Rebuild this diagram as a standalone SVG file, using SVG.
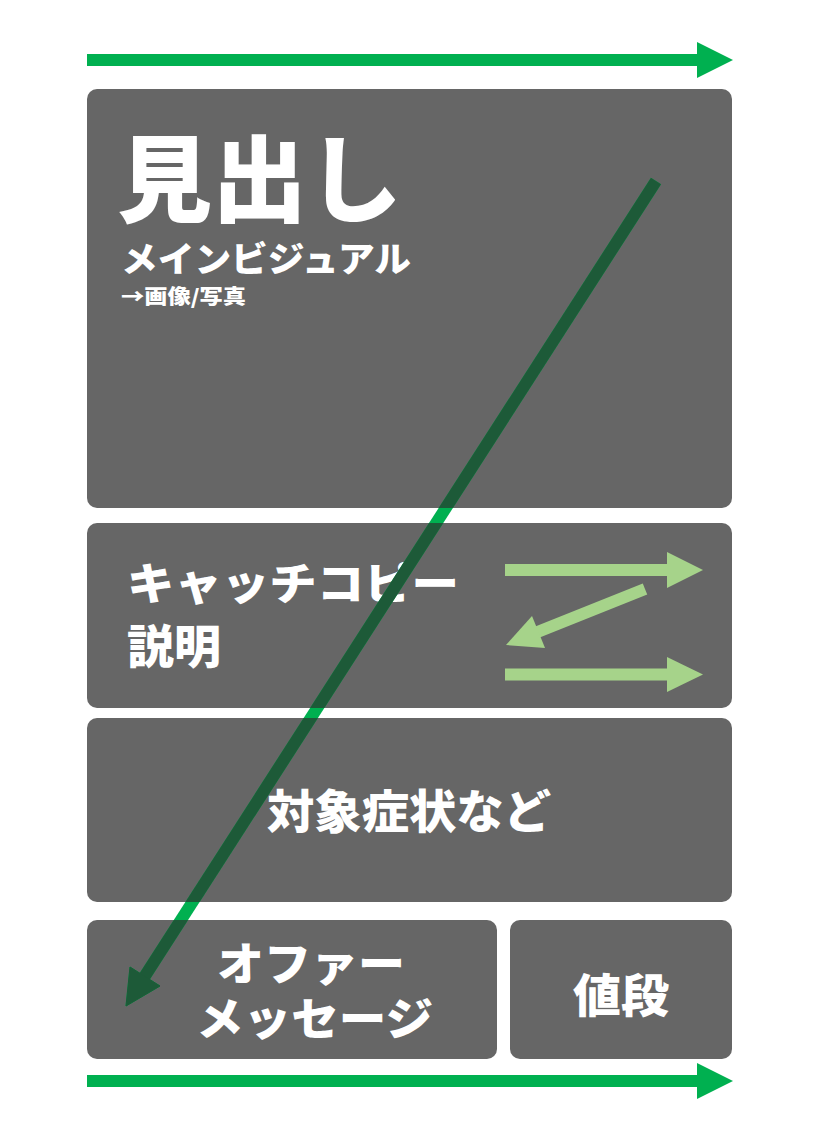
<svg xmlns="http://www.w3.org/2000/svg" width="813" height="1145" viewBox="0 0 813 1145">
<style>
.box{fill:#666666}
.t{fill:#ffffff;font-family:"Noto Sans CJK JP","Noto Sans CJK SC",sans-serif;font-weight:900}
.flow{fill:#00b050}
.za{fill:#a6d38a}
</style>
<defs>
<clipPath id="boxclip">
<rect x="87" y="89" width="645" height="419" rx="10"/>
<rect x="87" y="523" width="645" height="185" rx="10"/>
<rect x="87" y="718" width="645" height="184" rx="10"/>
<rect x="87" y="920" width="410" height="139" rx="10"/>
<rect x="510" y="920" width="222" height="139" rx="10"/>
</clipPath>
<g id="diagShape">
<line x1="656" y1="181" x2="143" y2="979" stroke-width="12"/>
<polygon points="126,1006 130,967 160,986"/>
</g>
</defs>

<g id="node-heading">
<rect class="box" x="87" y="89" width="645" height="419" rx="10"/>
<text class="t" x="117" y="215" font-size="95" textLength="285" lengthAdjust="spacingAndGlyphs">見出し</text>
<text class="t" x="121" y="272" font-size="35" textLength="290" lengthAdjust="spacingAndGlyphs">メインビジュアル</text>
<text class="t" x="121" y="304" font-size="20" textLength="125" lengthAdjust="spacingAndGlyphs">→画像/写真</text>
</g>

<g id="node-catch">
<rect class="box" x="87" y="523" width="645" height="185" rx="10"/>
<text class="t" x="127" y="600" font-size="44" textLength="332" lengthAdjust="spacingAndGlyphs">キャッチコピー</text>
<text class="t" x="127" y="663" font-size="46" textLength="94" lengthAdjust="spacingAndGlyphs">説明</text>
</g>

<g id="node-target">
<rect class="box" x="87" y="718" width="645" height="184" rx="10"/>
<text class="t" x="267" y="828" font-size="46" textLength="284" lengthAdjust="spacingAndGlyphs">対象症状など</text>
</g>

<g id="node-offer">
<rect class="box" x="87" y="920" width="410" height="139" rx="10"/>
<text class="t" x="217" y="981" font-size="45" textLength="188" lengthAdjust="spacingAndGlyphs">オファー</text>
<text class="t" x="196" y="1036" font-size="45" textLength="237" lengthAdjust="spacingAndGlyphs">メッセージ</text>
</g>

<g id="node-price">
<rect class="box" x="510" y="920" width="222" height="139" rx="10"/>
<text class="t" x="573" y="1012" font-size="46" textLength="96" lengthAdjust="spacingAndGlyphs">値段</text>
</g>

<g id="connectors">
<g class="flow">
<rect x="87" y="54" width="612" height="12"/>
<polygon points="697,42 733,60 697,78"/>
<rect x="87" y="1075" width="612" height="12"/>
<polygon points="697,1063 733,1081 697,1099"/>
</g>
<g class="za">
<rect x="505" y="564" width="164" height="12"/>
<polygon points="667,552 703,570 667,588"/>
<rect x="505" y="668.5" width="164" height="12"/>
<polygon points="667,657 703,674.5 667,692"/>
<line x1="645" y1="589" x2="535" y2="633" stroke="#a6d38a" stroke-width="12"/>
<polygon points="506,645 532,616 545,648"/>
</g>
<use href="#diagShape" fill="#00b050" stroke="#00b050"/>
<g clip-path="url(#boxclip)">
<use href="#diagShape" fill="#1d5a38" stroke="#1d5a38"/>
</g>
</g>
</svg>
